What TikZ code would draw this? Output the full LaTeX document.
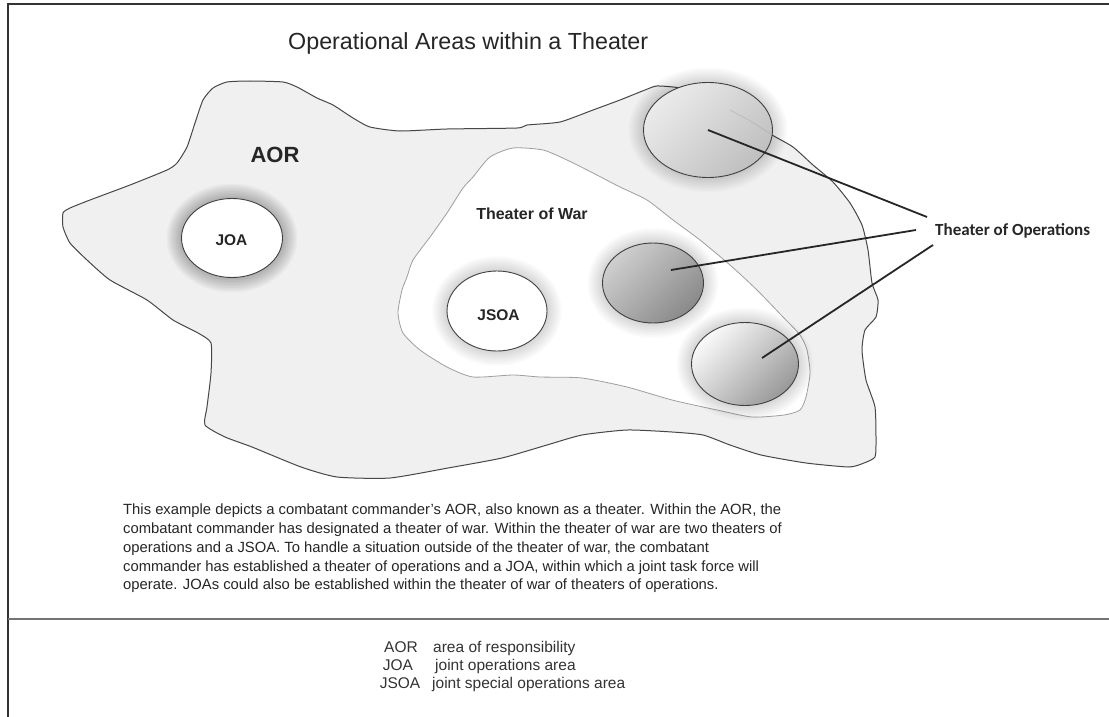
\documentclass[tikz,border=0pt]{standalone}
\usepackage{fontspec}
\setmainfont{Liberation Sans}
\newfontfamily\calloutfont{Carlito}
\usetikzlibrary{shapes.geometric}

% soft grey glow around an area: x, y, x radius, y radius, opacity per ring
\newcommand\drawhalo[5]{%
  \foreach \k in {1,...,10}{%
    \fill[black, opacity=#5] (#1,#2) ellipse [x radius={#3+\k*1.5}, y radius={#4+\k*1.5}];
  }%
}

\tikzset{
  framepen/.style={draw=black!80, line width=2.4pt},
  seppen/.style={draw=black!55, line width=1.8pt},
  aorarea/.style={fill=black!6, draw=black!72, line width=1pt},
  warea/.style={fill=white, draw=black!38, line width=0.8pt},
  areaell/.style={ellipse, draw=black!75, line width=0.9pt, inner sep=0pt},
  bigbold/.style={font=\fontsize{22}{26}\selectfont\bfseries, text=black!85},
  midbold/.style={font=\fontsize{15.5}{18}\selectfont\bfseries, text=black!85},
  leader/.style={draw=black!85, line width=1.8pt},
  bodytext/.style={font=\fontsize{14.8}{18.75}\selectfont, text=black!85, inner sep=0pt},
  legendtext/.style={font=\fontsize{15.5}{18}\selectfont, text=black!80, inner sep=0pt},
}

\begin{document}
\begin{tikzpicture}[x=1pt, y=-1pt]
\useasboundingbox (0,0) rectangle (1109,717);
\fill[white] (0,0) rectangle (1109,717);

% page frame and separator
\draw[framepen] (8,717) -- (8,4) -- (1109,4);
\draw[seppen] (8,619) -- (1109,619);

% title
\node[anchor=base west, inner sep=0pt, font=\fontsize{23.3}{28}\selectfont, text=black!85] (title) at (288,50) {Operational Areas within a Theater};

% area of responsibility
\path[aorarea] plot[smooth cycle, tension=0.35] coordinates {
  (63,213) (70,208) (90,200) (130,185) (167,170) (177,163) (187,147) (195,123)
  (203,100) (213,88) (227,82) (250,81) (283,82) (297,87) (317,98) (333,105)
  (353,118) (370,127) (400,131) (447,129) (517,128) (527,125) (560,122)
  (593,110) (620,100) (645,90) (657,86) (680,88) (705,97) (735,113)
  (772,135) (793,147) (813,165) (833,182) (850,203) (862,225) (868,250)
  (872,283) (878,300) (876,317) (865,330) (862,350) (866,380) (875,407)
  (876,440) (875,457) (864,463) (849,467) (806,463) (761,455) (730,445)
  (703,435) (672,432) (627,430) (582,435) (547,445) (502,458) (448,468)
  (390,478) (337,477) (301,467) (252,447) (225,437) (205,425) (207,407)
  (211,373) (211,343) (198,333) (173,320) (147,300) (110,280) (87,260)
  (70,243) (63,227)
};

% theater of war
\path[warea] plot[smooth cycle, tension=0.4] coordinates {
  (513,148) (543,150) (567,160) (593,173) (620,187) (647,200) (673,220)
  (700,240) (730,265) (757,290) (783,317) (800,335) (807,350) (810,373)
  (806,397) (800,410) (784,415) (752,417) (717,410) (672,400) (627,387)
  (582,378) (540,377) (513,375) (473,377) (447,367) (420,350) (403,333)
  (398,313) (402,290) (407,277) (413,260) (430,237) (447,213) (463,188)
  (473,177) (490,157)
};

% glows
\drawhalo{232}{238}{50.5}{39.5}{0.028}
\drawhalo{497}{311}{50}{40}{0.016}
\drawhalo{708}{130}{64.5}{47.5}{0.014}
\drawhalo{653}{283}{50.5}{40}{0.017}
\drawhalo{745}{364}{53.5}{41.5}{0.015}

% areas
\node[areaell, fill=white, minimum width=101pt, minimum height=79pt] (joa) at (232,238) {};
\node[areaell, fill=white, minimum width=100pt, minimum height=80pt] (jsoa) at (497,311) {};
\node[areaell, top color=black!8, bottom color=black!25, shading angle=45,
      minimum width=129pt, minimum height=95pt] (too1) at (708,130) {};
\node[areaell, top color=black!19, bottom color=black!46, shading angle=45,
      minimum width=101pt, minimum height=80pt] (too2) at (653,283) {};
\node[areaell, top color=black!2, bottom color=black!40, shading angle=45,
      minimum width=107pt, minimum height=83pt] (too3) at (745,364) {};

% AOR border faintly seen through the upper area
\draw[white!60!black, opacity=0.35, line width=0.8pt] plot[smooth, tension=0.4] coordinates {(730,110) (752,122) (772,135)};

% labels
\node[bigbold, anchor=base, inner sep=0pt] (aorlab) at (275,162) {AOR};
\node[midbold, anchor=base, inner sep=0pt, font=\fontsize{16}{18}\selectfont\bfseries] (warlab) at (532,219) {Theater of War};
\node[midbold, anchor=base, inner sep=0pt] (joalab) at (231.5,245) {JOA};
\node[midbold, anchor=base, inner sep=0pt] (jsoalab) at (498.5,320) {JSOA};
\node[anchor=base west, inner sep=0pt, font=\fontsize{17}{20}\calloutfont\bfseries, text=black!85] (toolab) at (935,235) {Theater of Operations};

% leaders
\coordinate (s2) at (671,270);
\coordinate (s3) at (762,358);
\coordinate (e1) at (927,217);
\coordinate (e2) at (916,230);
\coordinate (e3) at (933,245);
\draw[leader] (too1.center) -- (e1);
\draw[leader] (s2) -- (e2);
\draw[leader] (s3) -- (e3);

% explanation
\node[bodytext, anchor=north west, align=left] (explain) at (123,504) {This example depicts a combatant commander’s AOR, also known as a theater. Within the AOR, the\\
combatant commander has designated a theater of war. Within the theater of war are two theaters of\\
operations and a JSOA. To handle a situation outside of the theater of war, the combatant\\
commander has established a theater of operations and a JOA, within which a joint task force will\\
operate. JOAs could also be established within the theater of war of theaters of operations.};

% legend
\node[legendtext, anchor=base] (ab1) at (401,652) {AOR};
\node[legendtext, anchor=base] (ab2) at (398,670) {JOA};
\node[legendtext, anchor=base] (ab3) at (400,688) {JSOA};
\node[legendtext, anchor=base west] (df1) at (433,652) {area of responsibility};
\node[legendtext, anchor=base west] (df2) at (435,670) {joint operations area};
\node[legendtext, anchor=base west] (df3) at (432,688) {joint special operations area};
\end{tikzpicture}
\end{document}
